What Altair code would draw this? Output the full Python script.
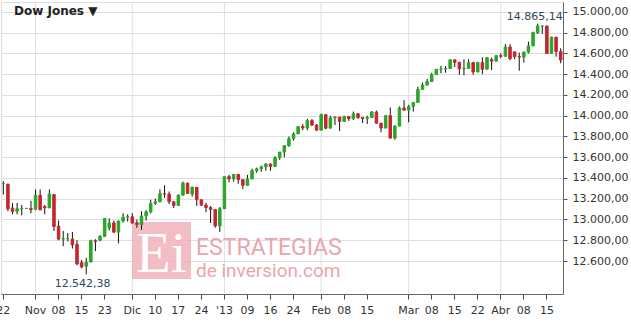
import json
import altair as alt
import pandas as pd

# ---- data (Dow Jones, daily candles) ----
dates = [
    "2012-10-22", "2012-10-23", "2012-10-24", "2012-10-25", "2012-10-26", "2012-10-29", "2012-10-31",
    "2012-11-01", "2012-11-02", "2012-11-05", "2012-11-06", "2012-11-07", "2012-11-08", "2012-11-09",
    "2012-11-12", "2012-11-13", "2012-11-14", "2012-11-15", "2012-11-16", "2012-11-19", "2012-11-20",
    "2012-11-21", "2012-11-23", "2012-11-26", "2012-11-27", "2012-11-28", "2012-11-29", "2012-11-30",
    "2012-12-03", "2012-12-04", "2012-12-05", "2012-12-06", "2012-12-07", "2012-12-10", "2012-12-11",
    "2012-12-12", "2012-12-13", "2012-12-14", "2012-12-17", "2012-12-18", "2012-12-19", "2012-12-20",
    "2012-12-21", "2012-12-24", "2012-12-26", "2012-12-27", "2012-12-28", "2012-12-31",
    "2013-01-02", "2013-01-03", "2013-01-04", "2013-01-07", "2013-01-08", "2013-01-09", "2013-01-10",
    "2013-01-11", "2013-01-14", "2013-01-15", "2013-01-16", "2013-01-17", "2013-01-18", "2013-01-22",
    "2013-01-23", "2013-01-24", "2013-01-25", "2013-01-28", "2013-01-29", "2013-01-30", "2013-01-31",
    "2013-02-01", "2013-02-04", "2013-02-05", "2013-02-06", "2013-02-07", "2013-02-08", "2013-02-11",
    "2013-02-12", "2013-02-13", "2013-02-14", "2013-02-15", "2013-02-19", "2013-02-20", "2013-02-21",
    "2013-02-22", "2013-02-25", "2013-02-26", "2013-02-27", "2013-02-28",
    "2013-03-01", "2013-03-04", "2013-03-05", "2013-03-06", "2013-03-07", "2013-03-08", "2013-03-11",
    "2013-03-12", "2013-03-13", "2013-03-14", "2013-03-15", "2013-03-18", "2013-03-19", "2013-03-20",
    "2013-03-21", "2013-03-22", "2013-03-25", "2013-03-26", "2013-03-27", "2013-03-28",
    "2013-04-01", "2013-04-02", "2013-04-03", "2013-04-04", "2013-04-05", "2013-04-08", "2013-04-09",
    "2013-04-10", "2013-04-11", "2013-04-12", "2013-04-15", "2013-04-16", "2013-04-17", "2013-04-18",
]
open_ = [
    13344, 13340, 13110, 13080, 13104, 13107, 13107,
    13099, 13233, 13125, 13112, 13240, 12935, 12811,
    12815, 12812, 12760, 12585, 12550, 12590, 12795,
    12800, 12837, 12920, 12967, 12878, 12985, 13022,
    13026, 12966, 12952, 13034, 13074, 13155, 13170,
    13248, 13245, 13170, 13135, 13235, 13350, 13245,
    13310, 13190, 13139, 13115, 13096, 12938,
    13104, 13413, 13391, 13435, 13384, 13329, 13391,
    13471, 13488, 13507, 13535, 13511, 13596, 13650,
    13712, 13779, 13825, 13896, 13882, 13954, 13910,
    13861, 14010, 13880, 13979, 13986, 13944, 13993,
    13971, 14019, 13983, 13973, 13982, 14036, 13928,
    13881, 14001, 13784, 13900, 14075,
    14054, 14090, 14128, 14254, 14296, 14329, 14397,
    14447, 14450, 14455, 14539, 14514, 14452, 14456,
    14512, 14421, 14512, 14448, 14540, 14526,
    14579, 14573, 14662, 14615, 14570, 14565, 14613,
    14673, 14802, 14865, 14865, 14600, 14757, 14619,
]
high = [
    13370, 13345, 13160, 13160, 13140, 13107, 13180,
    13290, 13290, 13140, 13290, 13240, 12990, 12890,
    12870, 12880, 12800, 12610, 12630, 12805, 12810,
    12850, 13012, 13010, 12990, 12990, 13060, 13050,
    13060, 13000, 13080, 13090, 13190, 13200, 13290,
    13330, 13270, 13180, 13240, 13365, 13355, 13315,
    13310, 13190, 13160, 13130, 13096, 13120,
    13413, 13430, 13437, 13435, 13384, 13430, 13490,
    13500, 13520, 13545, 13540, 13610, 13650, 13715,
    13800, 13840, 13900, 13920, 13970, 13968, 13920,
    14020, 14010, 14000, 13995, 13990, 14000, 13998,
    14040, 14025, 13990, 14000, 14045, 14050, 13930,
    14005, 14080, 13910, 14090, 14150,
    14105, 14130, 14280, 14320, 14355, 14413, 14448,
    14480, 14480, 14540, 14539, 14520, 14545, 14545,
    14520, 14520, 14563, 14563, 14560, 14586,
    14600, 14690, 14690, 14620, 14608, 14618, 14714,
    14810, 14887, 14870, 14865, 14762, 14757, 14650,
]
low = [
    13240, 13080, 13050, 13050, 13040, 13107, 13060,
    13090, 13090, 13050, 13110, 12890, 12800, 12743,
    12790, 12720, 12560, 12530, 12471, 12590, 12695,
    12790, 12837, 12895, 12870, 12770, 12970, 12980,
    12960, 12920, 12900, 12990, 13060, 13140, 13170,
    13210, 13150, 13110, 13130, 13230, 13245, 13220,
    13130, 13130, 13070, 12965, 12920, 12880,
    13104, 13358, 13365, 13345, 13293, 13329, 13390,
    13450, 13460, 13470, 13470, 13511, 13575, 13600,
    13700, 13760, 13825, 13860, 13860, 13900, 13855,
    13861, 13870, 13880, 13910, 13852, 13944, 13950,
    13960, 13970, 13930, 13920, 13980, 13925, 13840,
    13881, 13784, 13770, 13900, 14050,
    13937, 14040, 14128, 14250, 14290, 14329, 14395,
    14410, 14415, 14455, 14470, 14395, 14390, 14456,
    14395, 14421, 14400, 14448, 14440, 14526,
    14555, 14573, 14535, 14544, 14434, 14512, 14600,
    14673, 14788, 14790, 14599, 14600, 14569, 14505,
]
close = [
    13346, 13103, 13077, 13104, 13107, 13107, 13096,
    13233, 13093, 13112, 13246, 12933, 12811, 12815,
    12815, 12756, 12571, 12542.38, 12588, 12796, 12789,
    12837, 13010, 12967, 12878, 12985, 13022, 13026,
    12966, 12952, 13034, 13074, 13155, 13170, 13248,
    13245, 13171, 13135, 13235, 13351, 13252, 13312,
    13191, 13139, 13115, 13096, 12938, 13104,
    13413, 13391, 13435, 13384, 13329, 13391, 13471,
    13488, 13507, 13535, 13511, 13596, 13650, 13712,
    13779, 13825, 13896, 13882, 13954, 13910, 13861,
    14010, 13880, 13979, 13987, 13944, 13993, 13971,
    14019, 13983, 13973, 13982, 14036, 13928, 13881,
    14001, 13784, 13900, 14075, 14054,
    14090, 14128, 14254, 14296, 14329, 14397, 14447,
    14450, 14455, 14539, 14514, 14452, 14456, 14512,
    14421, 14512, 14448, 14560, 14526, 14579,
    14573, 14662, 14550, 14570, 14565, 14613, 14673,
    14802, 14865.14, 14865.06, 14599, 14757, 14619, 14537,
]

# axis ticks / labels
tick_dates = [
    "2012-10-22", "2012-11-01", "2012-11-08", "2012-11-15", "2012-11-23",
    "2012-12-03", "2012-12-10", "2012-12-17", "2012-12-24",
    "2013-01-02", "2013-01-09", "2013-01-16", "2013-01-24",
    "2013-02-01", "2013-02-08", "2013-02-15",
    "2013-03-01", "2013-03-08", "2013-03-15", "2013-03-22",
    "2013-04-01", "2013-04-08", "2013-04-15",
]
tick_labels = [
    "22", "Nov", "08", "15", "23",
    "Dic", "10", "17", "24",
    "'13", "09", "16", "24",
    "Feb", "08", "15",
    "Mar", "08", "15", "22",
    "Abr", "08", "15",
]
month_starts = ["2012-11-01", "2012-12-03", "2013-01-02", "2013-02-01", "2013-03-01", "2013-04-01"]
y_ticks = [12600, 12800, 13000, 13200, 13400, 13600, 13800, 14000, 14200, 14400, 14600, 14800, 15000]

title_text = "Dow Jones \u25BC"

df = pd.DataFrame({"date": dates, "open": open_, "high": high, "low": low, "close": close})


def es_fmt(v):
    s = f"{v:,.2f}"
    return s.replace(",", "#").replace(".", ",").replace("#", ".")


imax = int(df["close"].idxmax())
imin = int(df["close"].idxmin())
df_max = pd.DataFrame({"date": [dates[imax]], "v": [close[imax]], "t": [es_fmt(close[imax])]})
df_min = pd.DataFrame({"date": [dates[imin]], "v": [close[imin]], "t": [es_fmt(close[imin])]})

FONT = "DejaVu Sans"
GREEN = "#2aa52a"
RED = "#c4262e"
GRID = "#dedede"

xscale = alt.Scale(domain=dates, paddingInner=0, paddingOuter=0)
yscale = alt.Scale(domain=[12282, 15096], nice=False, zero=False)

label_expr = f"{json.dumps(tick_labels)}[indexof({json.dumps(tick_dates)}, datum.value)]"
y_label_expr = "replace(replace(replace(format(datum.value, ',.2f'), ',', '#'), '.', ','), '#', '.')"

x_axis = alt.Axis(
    values=tick_dates, labelExpr=label_expr, labelAngle=0, labelOverlap=False,
    grid=False, title=None, tickSize=5, tickColor="#444", domainColor="#666",
    labelFont=FONT, labelFontSize=11, labelColor="#333", labelPadding=5,
)
y_axis = alt.Axis(
    orient="right", values=y_ticks, labelExpr=y_label_expr, grid=True, gridColor=GRID,
    title=None, tickSize=4, tickColor="#555", domainColor="#666",
    labelFont=FONT, labelFontSize=11, labelColor="#333", labelPadding=5,
)


def X():
    return alt.X("date:O", scale=xscale, axis=x_axis)


def Y(field):
    return alt.Y(field, scale=yscale, axis=y_axis)


base = alt.Chart(df)

# watermark (behind the candles)
wm = pd.DataFrame({"a": [1]})
wm_box = alt.Chart(wm).mark_rect(color="#f0b3b8", opacity=0.85).encode(
    x=alt.value(131), x2=alt.value(190), y=alt.value(220), y2=alt.value(277)
)
wm_ei = alt.Chart(pd.DataFrame({"t": ["Ei"]})).mark_text(
    font="Liberation Serif", fontSize=57, color="white", align="left", baseline="alphabetic"
).encode(text="t:N", x=alt.value(135), y=alt.value(270))
wm_t1 = alt.Chart(pd.DataFrame({"t": ["ESTRATEGIAS"]})).mark_text(
    font="Roboto", fontSize=23, color="#e9a6ac", align="left", baseline="alphabetic"
).encode(text="t:N", x=alt.value(195), y=alt.value(253))
wm_t2 = alt.Chart(pd.DataFrame({"t": ["de inversion.com"]})).mark_text(
    font="Roboto", fontSize=19, color="#e9a6ac", align="left", baseline="alphabetic"
).encode(text="t:N", x=alt.value(195), y=alt.value(275))

month_grid = alt.Chart(pd.DataFrame({"date": month_starts})).mark_rule(color=GRID, strokeWidth=1).encode(
    x=X()
)

wicks = base.mark_rule(color="#111", strokeWidth=1).encode(
    x=X(),
    y=Y("low:Q"),
    y2="high:Q",
)

up = alt.datum.close >= alt.datum.open
bodies = base.mark_bar(size=2.5, strokeWidth=1).encode(
    x=X(),
    y=Y("open:Q"),
    y2="close:Q",
    color=alt.condition(up, alt.value(GREEN), alt.value(RED)),
    stroke=alt.condition(up, alt.value(GREEN), alt.value(RED)),
)

max_text = alt.Chart(df_max).mark_text(
    font=FONT, fontSize=11, color="#2f4858", dy=-9, dx=-3
).encode(x=X(), y=Y("v:Q"), text="t:N")
min_text = alt.Chart(df_min).mark_text(
    font=FONT, fontSize=11, color="#2f4858", dy=17, dx=1
).encode(x=X(), y=Y("v:Q"), text="t:N")

title = alt.Chart(pd.DataFrame({"t": [title_text]})).mark_text(
    font=FONT, fontSize=12, fontWeight="bold", color="#222", align="left", baseline="alphabetic"
).encode(text="t:N", x=alt.value(13), y=alt.value(12.5))

chart = alt.layer(
    month_grid, wm_box, wm_ei, wm_t1, wm_t2, wicks, bodies, max_text, min_text, title
).properties(
    width=562, height=292,
    padding={"left": 1, "top": 2, "right": 68, "bottom": 29},
    autosize=alt.AutoSizeParams(type="none"),
).configure_view(stroke="#a0a0a0").configure(background="white")

chart.save("out.html", embed_options={"renderer": "svg", "actions": False})
